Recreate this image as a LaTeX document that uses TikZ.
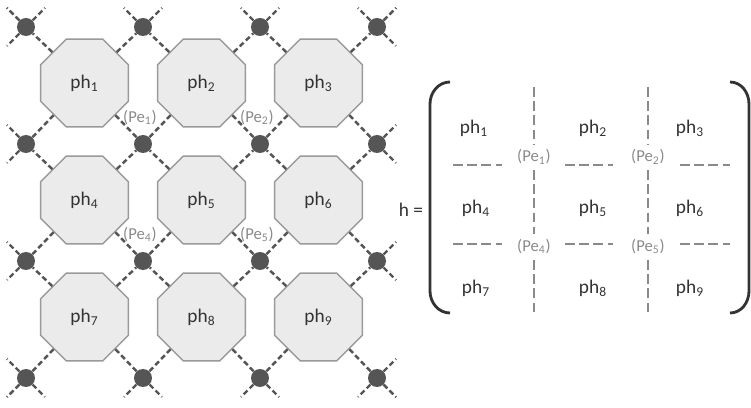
\documentclass[tikz,border=0pt]{standalone}
\usepackage{fontspec}
\setmainfont{Carlito}
\usetikzlibrary{shapes.geometric, positioning}

\definecolor{octfill}{HTML}{EBEBEB}
\definecolor{octline}{HTML}{9A9A9A}
\definecolor{sitegray}{HTML}{555555}
\definecolor{pegray}{HTML}{8A8A8A}
\definecolor{txtgray}{HTML}{333333}

\begin{document}
\begin{tikzpicture}[
        x = 0.02cm, y = -0.02cm,
        every node/.style = {font = \fontsize{11}{13}\selectfont, text = txtgray},
        octa/.style = {regular polygon, regular polygon sides = 8, minimum size = 1.9cm,
                       draw = octline, thick, fill = octfill, inner sep = 0pt},
        site/.style = {circle, fill = sitegray, minimum size = 0.36cm, inner sep = 0pt},
        bond/.style = {draw = sitegray, line width = 1.4pt, dash pattern = on 3pt off 1.8pt},
        pe/.style = {font = \fontsize{9.5}{11}\selectfont, text = pegray, inner sep = 1pt},
        mpe/.style = {pe, inner sep = 3pt},
        part/.style = {draw = pegray, line width = 1.6pt, dash pattern = on 5.5pt off 2.6pt},
        brack/.style = {draw = txtgray, line width = 1.6pt}
    ]
      \useasboundingbox (0,0) rectangle (751,408);

      % lattice sites and their free ends
      \foreach \i in {0,...,3}
        \foreach \j in {0,...,3} {
          \node[site] (d\i\j) at (26+117*\j, 27+117*\i) {};
          \path (d\i\j.center) +(19,-19) coordinate (d\i\j-ne)
                               +(-19,-19) coordinate (d\i\j-nw)
                               +(19,19) coordinate (d\i\j-se)
                               +(-19,19) coordinate (d\i\j-sw);
        }

      % plaquettes
      \foreach \r in {0,1,2}
        \foreach \c in {0,1,2} {
          \pgfmathtruncatemacro\k{3*\r+\c+1}
          \pgfmathtruncatemacro\rr{\r+1}
          \pgfmathtruncatemacro\cc{\c+1}
          \node[octa] (ph\k) at (84.5+117*\c, 83+117*\r) {ph\textsubscript{\k}};
          \path[bond] (ph\k) -- (d\r\c)  (ph\k) -- (d\r\cc)
                      (ph\k) -- (d\rr\c) (ph\k) -- (d\rr\cc);
        }

      % stubs on the border
      \foreach \j in {0,...,3} {
        \path[bond] (d0\j) -- (d0\j-ne) (d0\j) -- (d0\j-nw);
        \path[bond] (d3\j) -- (d3\j-se) (d3\j) -- (d3\j-sw);
        \path[bond] (d\j0) -- (d\j0-nw) (d\j0) -- (d\j0-sw);
        \path[bond] (d\j3) -- (d\j3-ne) (d\j3) -- (d\j3-se);
      }

      \node[pe, above = 0.15cm of d11, xshift = -0.06cm] (pe1) {(Pe\textsubscript{1})};
      \node[pe, above = 0.15cm of d12, xshift = -0.06cm] (pe2) {(Pe\textsubscript{2})};
      \node[pe, above = 0.15cm of d21, xshift = -0.06cm] (pe4) {(Pe\textsubscript{4})};
      \node[pe, above = 0.15cm of d22, xshift = -0.06cm] (pe5) {(Pe\textsubscript{5})};

      % matrix h
      \node (h) at (411,210) {h =};
      \draw[brack] (450,82) to[out=180, in=90] (430,104) -- (430,291) to[out=-90, in=180] (450,313);
      \draw[brack] (730,82) to[out=0, in=90] (749,104) -- (749,291) to[out=-90, in=0] (730,313);

      \foreach \k/\x/\y in {1/474/128, 2/593/128, 3/690/128,
                            4/476/208, 5/593/208, 6/690/208,
                            7/476/288, 8/593/288, 9/690/288}
        \node (m\k) at (\x,\y) {ph\textsubscript{\k}};

      \node[mpe] (mpe1) at (534,157) {(Pe\textsubscript{1})};
      \node[mpe] (mpe2) at (648,157) {(Pe\textsubscript{2})};
      \node[mpe] (mpe4) at (534,247) {(Pe\textsubscript{4})};
      \node[mpe] (mpe5) at (648,247) {(Pe\textsubscript{5})};

      \coordinate (v1t) at (534,87);  \coordinate (v1b) at (534,313);
      \coordinate (v2t) at (648,87);  \coordinate (v2b) at (648,313);
      \draw[part] (v1t) -- (mpe1) -- (mpe4) -- (v1b);
      \draw[part] (v2t) -- (mpe2) -- (mpe5) -- (v2b);

      \foreach \y in {165,244} {
        \draw[part] (453,\y) -- (502,\y);
        \draw[part] (565,\y) -- (613,\y);
        \draw[part] (680,\y) -- (730,\y);
      }
    \end{tikzpicture}
\end{document}
